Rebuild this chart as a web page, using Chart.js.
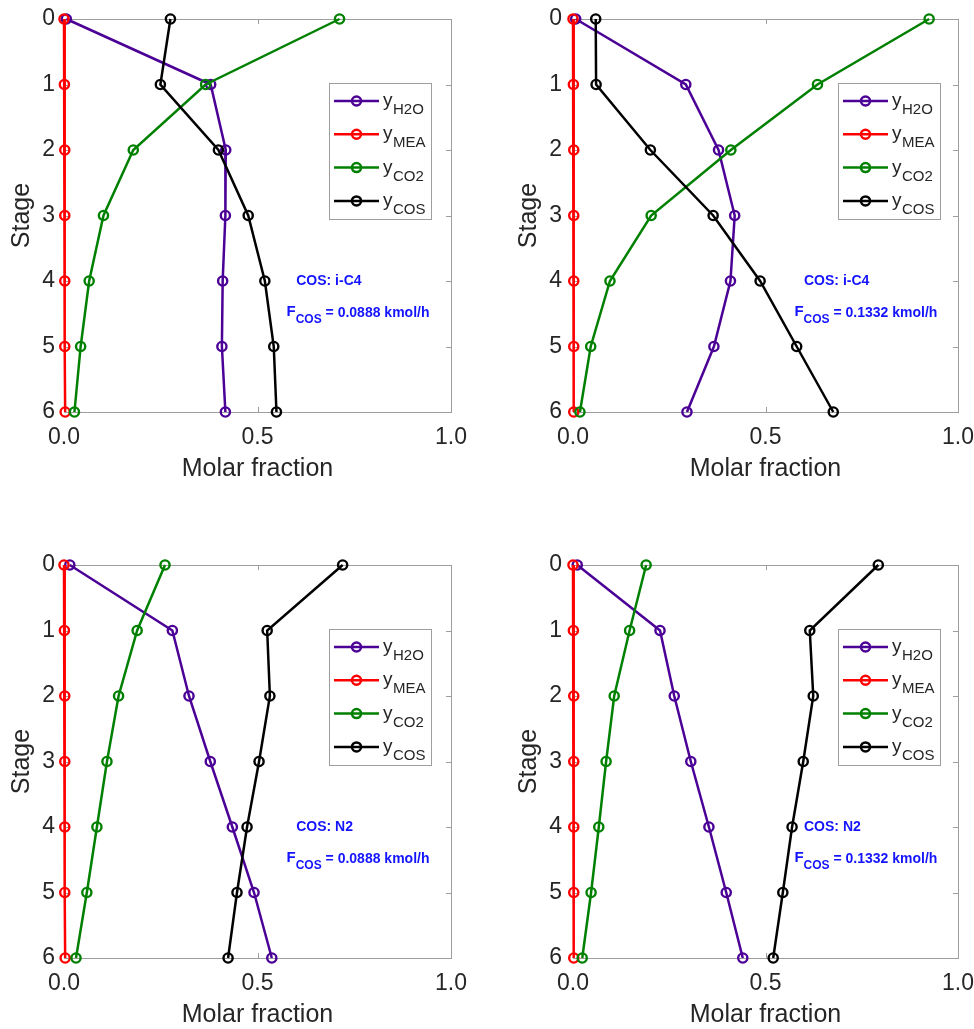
<!DOCTYPE html>
<html>
<head>
<meta charset="utf-8">
<script src="https://cdn.jsdelivr.net/npm/chart.js@4"></script>
<style>
  body { margin: 0; background: #fff; width: 974px; height: 1029px; position: relative; overflow: hidden; }
  canvas { position: absolute; }
</style>
</head>
<body>
<canvas id="graficoA" width="487" height="483" style="left:0px;top:0px"></canvas>
<canvas id="graficoB" width="487" height="483" style="left:487px;top:0px"></canvas>
<canvas id="graficoC" width="487" height="483" style="left:0px;top:546px"></canvas>
<canvas id="graficoD" width="487" height="483" style="left:487px;top:546px"></canvas>
<script>
const stages = [0, 1, 2, 3, 4, 5, 6];
const xTickValues = [0, 0.5, 1.0];
const species = ["H2O", "MEA", "CO2", "COS"];
const speciesColors = ["#4b0096", "#ff0000", "#008000", "#000000"];

// COS: i-C4, F = 0.0888 kmol/h
const h2oA = [0.006, 0.379, 0.418, 0.417, 0.410, 0.408, 0.417];
const meaA = [0.000, 0.001, 0.002, 0.002, 0.002, 0.002, 0.003];
const co2A = [0.712, 0.366, 0.179, 0.102, 0.065, 0.043, 0.027];
const cosA = [0.275, 0.249, 0.399, 0.476, 0.519, 0.542, 0.549];

// COS: i-C4, F = 0.1332 kmol/h
const h2oB = [0.007, 0.293, 0.378, 0.420, 0.409, 0.366, 0.296];
const meaB = [0.000, 0.001, 0.002, 0.002, 0.002, 0.002, 0.002];
const co2B = [0.925, 0.635, 0.410, 0.203, 0.096, 0.046, 0.018];
const cosB = [0.059, 0.060, 0.201, 0.364, 0.486, 0.581, 0.676];

// COS: N2, F = 0.0888 kmol/h
const h2oC = [0.015, 0.280, 0.323, 0.378, 0.435, 0.491, 0.537];
const meaC = [0.000, 0.001, 0.002, 0.002, 0.002, 0.002, 0.003];
const co2C = [0.261, 0.189, 0.141, 0.111, 0.085, 0.059, 0.031];
const cosC = [0.720, 0.525, 0.532, 0.504, 0.473, 0.447, 0.424];

// COS: N2, F = 0.1332 kmol/h
const h2oD = [0.011, 0.226, 0.263, 0.306, 0.353, 0.398, 0.441];
const meaD = [0.000, 0.001, 0.002, 0.002, 0.002, 0.002, 0.002];
const co2D = [0.190, 0.147, 0.107, 0.086, 0.067, 0.047, 0.024];
const cosD = [0.793, 0.615, 0.624, 0.598, 0.569, 0.545, 0.520];

const fonte = 'Arial, "Liberation Sans", Helvetica, sans-serif';
const corTexto = "#262626";
const corCaixa = "#9e9e9e";

const decorPlugin = {
  id: "decor",
  beforeDatasetsDraw(chart) {
    const ctx = chart.ctx;
    const a = chart.chartArea;
    const sx = chart.scales.x, sy = chart.scales.y;
    ctx.save();
    ctx.strokeStyle = corCaixa;
    ctx.lineWidth = 1;
    ctx.strokeRect(a.left + 0.5, a.top + 0.5, a.right - a.left, a.bottom - a.top);
    ctx.beginPath();
    xTickValues.forEach((v) => {
      const px = Math.round(sx.getPixelForValue(v)) + 0.5;
      ctx.moveTo(px, a.top); ctx.lineTo(px, a.top + 5);
      ctx.moveTo(px, a.bottom); ctx.lineTo(px, a.bottom - 5);
    });
    stages.forEach((s) => {
      const py = Math.round(sy.getPixelForValue(s)) + 0.5;
      ctx.moveTo(a.left, py); ctx.lineTo(a.left + 5, py);
      ctx.moveTo(a.right, py); ctx.lineTo(a.right - 5, py);
    });
    ctx.stroke();
    ctx.restore();
  },
  afterDraw(chart, args, opts) {
    const ctx = chart.ctx;
    const a = chart.chartArea;
    const sx = chart.scales.x, sy = chart.scales.y;
    ctx.save();

    // legenda
    const bx = a.left + 265, by = a.top + 64, bw = 102, bh = 136;
    ctx.fillStyle = "#fff";
    ctx.fillRect(bx, by, bw, bh);
    ctx.strokeStyle = corCaixa;
    ctx.lineWidth = 1;
    ctx.strokeRect(bx + 0.5, by + 0.5, bw, bh);
    species.forEach((nome, i) => {
      const ry = by + 18 + i * 33.3;
      ctx.strokeStyle = speciesColors[i];
      ctx.lineWidth = 2.5;
      ctx.beginPath();
      ctx.moveTo(bx + 5, ry); ctx.lineTo(bx + 50, ry);
      ctx.stroke();
      ctx.beginPath();
      ctx.arc(bx + 27.5, ry, 4.5, 0, Math.PI * 2);
      ctx.stroke();
      ctx.fillStyle = corTexto;
      ctx.textAlign = "left";
      ctx.textBaseline = "alphabetic";
      ctx.font = "19px " + fonte;
      ctx.fillText("y", bx + 54, ry + 5);
      ctx.font = "15px " + fonte;
      ctx.fillText(nome, bx + 64, ry + 13);
    });

    // textos azuis
    ctx.fillStyle = "#1414ff";
    ctx.textAlign = "left";
    ctx.textBaseline = "middle";
    ctx.font = "bold 14px " + fonte;
    ctx.fillText("COS: " + opts.cos, sx.getPixelForValue(0.6), sy.getPixelForValue(4));
    const fx = sx.getPixelForValue(0.575);
    const fy = sy.getPixelForValue(4.5);
    ctx.font = "bold 15px " + fonte;
    ctx.fillText("F", fx, fy - 2);
    const wF = ctx.measureText("F").width;
    ctx.font = "bold 12px " + fonte;
    ctx.fillText("COS", fx + wF, fy + 6);
    const wS = ctx.measureText("COS").width;
    ctx.font = "bold 14px " + fonte;
    ctx.fillText(" = " + opts.flow + " kmol/h", fx + wF + wS, fy - 1);
    ctx.restore();
  },
};

function gerarPainel(id, lado, h2o, mea, co2, cos, nomeCos, fluxo) {
  const series = [h2o, mea, co2, cos];
  const datasets = series.map((vals, i) => ({
    label: "y" + species[i],
    data: stages.map((s, k) => ({ x: vals[k], y: s })),
    borderColor: speciesColors[i],
    backgroundColor: speciesColors[i],
    pointBorderColor: speciesColors[i],
    pointBackgroundColor: "rgba(0,0,0,0)",
    borderWidth: 2.5,
    pointRadius: 4.6,
    pointBorderWidth: 2.4,
    tension: 0,
    clip: false,
    order: 4 - i,
  }));

  const esquerda = lado === "esquerda";
  const config = {
    type: "line",
    data: { datasets: datasets },
    options: {
      animation: false,
      responsive: false,
      devicePixelRatio: 1,
      layout: { padding: { left: 0, right: esquerda ? 36 : 16, top: 19, bottom: 0 } },
      plugins: {
        legend: { display: false },
        tooltip: { enabled: false },
        decor: { cos: nomeCos, flow: fluxo },
      },
      scales: {
        x: {
          type: "linear",
          min: 0,
          max: 1,
          afterBuildTicks: (s) => { s.ticks = xTickValues.map((v) => ({ value: v })); },
          afterFit: (s) => { s.height = 71; s.paddingLeft = 0; s.paddingRight = 0; },
          grid: { display: false, drawTicks: false },
          border: { display: false },
          ticks: {
            padding: 12,
            color: corTexto,
            font: { family: fonte, size: 23 },
            callback: (v) => Number(v).toFixed(1),
            maxRotation: 0,
          },
          title: {
            display: true,
            text: "Molar fraction",
            color: corTexto,
            font: { family: fonte, size: 25, lineHeight: 1 },
            padding: { top: 0, bottom: 1 },
          },
        },
        y: {
          type: "linear",
          min: 0,
          max: 6,
          reverse: true,
          afterBuildTicks: (s) => { s.ticks = stages.map((v) => ({ value: v })); },
          afterFit: (s) => { s.width = esquerda ? 64 : 86; s.paddingTop = 0; s.paddingBottom = 0; },
          grid: { display: false, drawTicks: false },
          border: { display: false },
          ticks: {
            padding: esquerda ? 9 : 11,
            color: corTexto,
            font: { family: fonte, size: 23 },
          },
          title: {
            display: true,
            text: "Stage",
            color: corTexto,
            font: { family: fonte, size: 25, lineHeight: 1 },
            padding: { top: esquerda ? 9.5 : 29.5, bottom: 0 },
          },
        },
      },
    },
    plugins: [decorPlugin],
  };
  return new Chart(document.getElementById(id), config);
}

gerarPainel("graficoA", "esquerda", h2oA, meaA, co2A, cosA, "i-C4", "0.0888");
gerarPainel("graficoB", "direita", h2oB, meaB, co2B, cosB, "i-C4", "0.1332");
gerarPainel("graficoC", "esquerda", h2oC, meaC, co2C, cosC, "N2", "0.0888");
gerarPainel("graficoD", "direita", h2oD, meaD, co2D, cosD, "N2", "0.1332");
</script>
</body>
</html>
